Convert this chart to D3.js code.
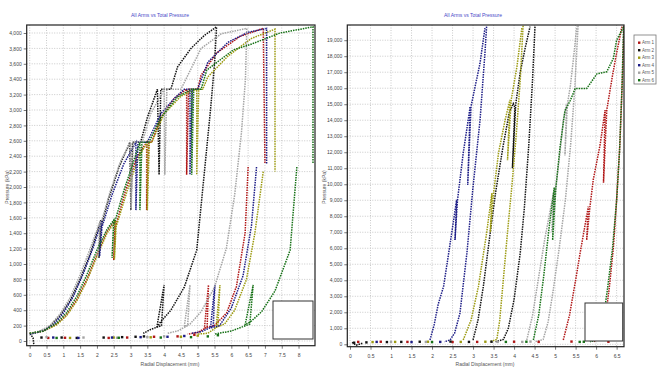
<!DOCTYPE html>
<html>
<head>
<meta charset="utf-8">
<script src="https://cdn.jsdelivr.net/npm/d3@7"></script>
<style>
  body { margin: 0; background: #fff; }
  svg { display: block; font-family: "Liberation Sans", Arial, sans-serif; }
</style>
</head>
<body>
<svg id="chart" width="661" height="372"></svg>
<script>
// ---- data (radial displacement mm, pressure kPa) ----
const armNames = ['Arm 1', 'Arm 2', 'Arm 3', 'Arm 4', 'Arm 5', 'Arm 6'];

const leftXTicks = d3.range(0, 8.01, 0.5);
const leftYTicks = d3.range(0, 4001, 200);
const rightXTicks = d3.range(0, 6.51, 0.5);
const rightYTicks = d3.range(0, 19001, 1000);

// left chart: each arm is a list of traces
const leftArm1 = [
  [[0, 100], [0.4, 130], [0.8, 220], [1.1, 340], [1.4, 540], [1.7, 800], [2.0, 1120], [2.3, 1420], [2.54, 1570],
   [2.5, 1050], [2.55, 1480], [2.85, 1950], [3.2, 2400], [3.48, 2580], [3.48, 1700], [3.54, 2580], [3.63, 2580],
   [3.9, 2900], [4.3, 3150], [4.67, 3270], [4.67, 2160], [4.73, 3270], [5.0, 3270], [5.1, 3450], [5.56, 3740],
   [6.26, 3956], [6.95, 4060], [7.0, 2300]],
  [[6.5, 2260], [6.41, 1400], [6.15, 706], [5.86, 364], [5.5, 200], [5.2, 170], [5.32, 728], [5.28, 180], [5.0, 110], [4.7, 90]]
];
const leftArm2 = [
  [[0.12, -40], [0.1, 40], [0.02, 90]],
  [[0, 90], [0.3, 120], [0.6, 190], [0.9, 330], [1.2, 520], [1.5, 800], [1.8, 1130], [2.12, 1570], [2.06, 1080],
   [2.1, 1450], [2.35, 1850], [2.65, 2250], [2.98, 2580], [3.01, 1700], [3.06, 2580], [3.3, 2580], [3.5, 2900],
   [3.8, 3270], [3.85, 2160], [3.9, 3270], [4.2, 3270], [4.4, 3560], [4.8, 3800], [5.2, 3970], [5.56, 4080],
   [5.5, 3600], [5.38, 3000], [5.2, 2200], [4.97, 1180], [4.6, 700], [4.2, 400], [3.88, 240], [3.78, 170],
   [4.0, 728], [3.92, 200], [3.6, 150], [3.38, 100]]
];
const leftArm3 = [
  [[0, 100], [0.4, 125], [0.8, 210], [1.1, 330], [1.4, 520], [1.7, 780], [2.0, 1100], [2.3, 1400], [2.56, 1560],
   [2.52, 1060], [2.57, 1480], [2.9, 1950], [3.25, 2400], [3.5, 2580], [3.5, 1700], [3.56, 2580], [3.63, 2580],
   [4.0, 2950], [4.5, 3180], [4.97, 3270], [4.97, 2160], [5.03, 3270], [5.15, 3270], [5.3, 3430], [5.9, 3700],
   [6.6, 3930], [7.3, 4050], [7.3, 2200]],
  [[6.95, 2200], [6.7, 1400], [6.45, 800], [6.1, 400], [5.8, 220], [5.55, 180], [5.66, 728], [5.6, 190], [5.3, 100], [5.0, 90]]
];
const leftArm4 = [
  [[0, 90], [0.4, 130], [0.7, 210], [1.0, 360], [1.3, 580], [1.6, 880], [1.9, 1230], [2.14, 1560], [2.08, 1100],
   [2.15, 1480], [2.45, 1900], [2.8, 2300], [3.16, 2580], [3.16, 1700], [3.22, 2580], [3.5, 2580], [3.9, 2950],
   [4.3, 3150], [4.6, 3270], [4.77, 3270], [4.77, 2160], [4.84, 3270], [5.0, 3270], [5.3, 3620], [5.9, 3880],
   [6.5, 4010], [7.05, 4060], [7.05, 2300]],
  [[6.75, 2260], [6.6, 1500], [6.35, 850], [6.0, 430], [5.65, 200], [5.38, 170], [5.51, 728], [5.46, 190], [5.1, 120], [4.8, 100]]
];
const leftArm5 = [
  [[0, 100], [0.3, 130], [0.6, 200], [0.9, 350], [1.2, 560], [1.5, 860], [1.8, 1200], [2.1, 1560], [2.03, 1100],
   [2.1, 1500], [2.4, 1950], [2.7, 2330], [3.0, 2580], [3.02, 1720], [3.08, 2580], [3.35, 2580], [3.6, 2950],
   [4.0, 3270], [4.02, 2160], [4.08, 3270], [4.5, 3270], [5.1, 3800], [5.7, 3990], [6.46, 4060],
   [6.42, 3400], [6.3, 2700], [6.1, 1900], [5.85, 1200], [5.5, 700], [5.1, 380], [4.77, 220],
   [4.6, 190], [4.77, 728], [4.7, 200], [4.4, 130], [4.1, 100]]
];
const leftArm6 = [
  [[0, 100], [0.4, 130], [0.8, 230], [1.1, 370], [1.4, 580], [1.7, 860], [2.0, 1180], [2.3, 1450], [2.5, 1570],
   [2.45, 1080], [2.5, 1500], [2.8, 1950], [3.28, 2580], [3.28, 1700], [3.34, 2580], [3.55, 2580], [3.9, 2900],
   [4.4, 3170], [4.82, 3270], [4.82, 2160], [4.88, 3270], [5.1, 3270], [5.27, 3520], [6.06, 3780], [6.56, 3850],
   [7.45, 4000], [8.43, 4080], [8.43, 2300]],
  [[7.95, 2260], [7.75, 1180], [7.3, 650], [6.9, 380], [6.6, 260], [6.41, 210], [6.65, 728], [6.55, 220], [6.0, 130], [5.5, 90]]
];
const leftArm1Dots = [[0.55, 40], [1.05, 42], [2.35, 40], [2.9, 45], [3.7, 55], [4.4, 60], [4.9, 80]];
const leftArm2Dots = [[0.35, 45], [0.95, 45], [1.4, 40], [2.2, 45], [2.75, 50], [3.15, 55], [3.4, 60]];
const leftArm3Dots = [[1.2, 40], [2.5, 45], [3.6, 48], [4.5, 55], [5.0, 70]];
const leftArm4Dots = [[0.7, 45], [1.45, 40], [2.45, 45], [3.3, 50], [4.1, 55], [4.6, 65]];
const leftArm5Dots = [[0.5, 50], [1.6, 45], [2.6, 42], [3.5, 50], [4.0, 60]];
const leftArm6Dots = [[0.8, 40], [2.65, 42], [3.9, 45], [4.8, 50], [5.3, 60], [5.6, 75]];

// right chart
const rightArm1 = [
  [[5.2, 270], [5.35, 1800], [5.5, 4000], [5.61, 5700], [5.81, 8600], [5.77, 6500], [5.85, 8600], [5.93, 10270],
   [6.1, 12500], [6.22, 14640], [6.18, 10100], [6.26, 14640], [6.4, 16800], [6.5, 18200], [6.63, 19850]],
  [[6.68, 19900], [6.64, 16500], [6.58, 12500], [6.5, 9000], [6.42, 6000], [6.32, 3500], [6.22, 1500], [6.12, 400], [5.95, 170]]
];
const rightArm2 = [
  [[0.3, 60], [0.15, -60], [0.05, 120]],
  [[3.0, 270], [3.12, 1500], [3.25, 3600], [3.4, 6600], [3.55, 9500], [3.73, 12350], [3.88, 14440], [3.98, 15040],
   [4.02, 14800], [3.96, 11000], [4.04, 15000], [4.15, 17000], [4.27, 18500], [4.39, 19850]],
  [[4.51, 19850], [4.45, 16500], [4.36, 12500], [4.25, 8500], [4.15, 5700], [4.0, 2800], [3.86, 1000], [3.74, 300], [3.55, 160]]
];
const rightArm3 = [
  [[2.76, 270], [2.95, 1500], [3.13, 3600], [3.33, 6940], [3.46, 9440], [3.42, 7000], [3.5, 9440], [3.62, 11940],
   [3.78, 14000], [3.9, 15270], [3.84, 11500], [3.93, 15270], [4.07, 17350], [4.19, 19750]],
  [[4.22, 19900], [4.15, 16500], [4.05, 13000], [3.95, 10000], [3.84, 7000], [3.73, 3800], [3.65, 1500], [3.58, 300], [3.4, 160]]
];
const rightArm4 = [
  [[1.95, 270], [2.05, 1200], [2.15, 2500], [2.28, 3600], [2.4, 5600], [2.6, 9020], [2.56, 6520], [2.62, 9000],
   [2.76, 11940], [2.93, 14850], [2.87, 9950], [2.95, 14850], [3.05, 16100], [3.17, 17560], [3.29, 19750]],
  [[3.33, 19850], [3.29, 18200], [3.17, 14000], [3.0, 9850], [2.85, 5700], [2.68, 1940], [2.55, 700], [2.44, 270], [2.3, 160]]
];
const rightArm5 = [
  [[4.31, 270], [4.45, 1800], [4.6, 4200], [4.75, 6600], [4.96, 9440], [4.92, 7000], [5.0, 9440], [5.12, 12000],
   [5.2, 14000], [5.28, 15000], [5.24, 11800], [5.3, 15000], [5.37, 16100], [5.45, 17900], [5.53, 19850]],
  [[5.56, 19900], [5.48, 16000], [5.38, 12500], [5.25, 9000], [5.1, 6000], [4.95, 3300], [4.83, 1400], [4.71, 300], [4.5, 160]]
];
const rightArm6 = [
  [[4.47, 270], [4.6, 1800], [4.72, 4200], [4.85, 7200], [4.98, 9800], [4.94, 6500], [5.02, 9800], [5.12, 12300],
   [5.24, 14600], [5.37, 15230], [5.49, 15980], [5.77, 15980], [6.02, 16900], [6.26, 17030], [6.42, 17860],
   [6.5, 19000], [6.67, 19830]],
  [[6.67, 19850], [6.63, 16000], [6.57, 12000], [6.5, 9000], [6.4, 6000], [6.28, 3500], [6.17, 1500], [6.06, 300], [5.85, 160]]
];
const rightArm1Dots = [[0.2, 150], [0.75, 160], [1.4, 150], [2.5, 140], [3.1, 150], [4.0, 160], [4.6, 150], [5.4, 170], [6.3, 160]];
const rightArm2Dots = [[0.1, 100], [0.4, 120], [0.9, 140], [1.25, 150], [1.7, 160], [2.45, 170], [2.9, 150], [3.45, 160]];
const rightArm3Dots = [[0.55, 140], [1.1, 150], [1.9, 160], [2.7, 150], [3.3, 160]];
const rightArm4Dots = [[0.65, 150], [1.5, 140], [2.2, 150]];
const rightArm5Dots = [[1.0, 150], [1.85, 150], [3.6, 150], [4.2, 150], [4.4, 170]];
const rightArm6Dots = [[2.0, 140], [3.8, 150], [4.3, 160], [5.6, 150], [5.7, 160]];

// ---- styles ----
const armColors = ['#b01515', '#111111', '#9c9a10', '#1c1c86', '#a4a4a4', '#157015'];

const svg = d3.select('#chart');

const panels = [
  {
    frame: [26.7, 25, 315, 345.7],
    xDomain: [-0.09, 8.49], yDomain: [-61, 4104],
    xTicks: leftXTicks, yTicks: leftYTicks,
    arms: [leftArm1, leftArm2, leftArm3, leftArm4, leftArm5, leftArm6],
    dots: [leftArm1Dots, leftArm2Dots, leftArm3Dots, leftArm4Dots, leftArm5Dots, leftArm6Dots],
    titleX: 160, xLabelX: 170, yLabelX: 9,
    box: [273, 301, 313, 339]
  },
  {
    frame: [347.3, 25, 624, 346.7],
    xDomain: [-0.066, 6.68], yDomain: [-150, 19950],
    xTicks: rightXTicks, yTicks: rightYTicks,
    arms: [rightArm1, rightArm2, rightArm3, rightArm4, rightArm5, rightArm6],
    dots: [rightArm1Dots, rightArm2Dots, rightArm3Dots, rightArm4Dots, rightArm5Dots, rightArm6Dots],
    titleX: 473, xLabelX: 485, yLabelX: 326,
    box: [585, 303, 622.7, 341]
  }
];

panels.forEach(function(p) {
  const [x0, y0, x1, y1] = p.frame;
  const x = d3.scaleLinear().domain(p.xDomain).range([x0, x1]);
  const y = d3.scaleLinear().domain(p.yDomain).range([y1, y0]);
  const g = svg.append('g');

  // grid
  g.append('g').selectAll('line')
      .data(p.xTicks)
      .enter().append('line')
      .attr('x1', d => x(d)).attr('x2', d => x(d))
      .attr('y1', y0).attr('y2', y1)
      .attr('stroke', '#bdbdbd').attr('stroke-width', 0.8)
      .attr('stroke-dasharray', '1,1.5');
  g.append('g').selectAll('line')
      .data(p.yTicks)
      .enter().append('line')
      .attr('x1', x0).attr('x2', x1)
      .attr('y1', d => y(d)).attr('y2', d => y(d))
      .attr('stroke', '#bdbdbd').attr('stroke-width', 0.8)
      .attr('stroke-dasharray', '1,1.5');

  // axes
  const xAxis = g.append('g')
      .attr('transform', 'translate(0,' + y1 + ')')
      .call(d3.axisBottom(x).tickValues(p.xTicks).tickSize(3).tickPadding(5)
          .tickFormat(d3.format('')));
  const yAxis = g.append('g')
      .attr('transform', 'translate(' + x0 + ',0)')
      .call(d3.axisLeft(y).tickValues(p.yTicks).tickSize(3).tickPadding(2)
          .tickFormat(d3.format(',')));
  [xAxis, yAxis].forEach(function(a) {
    a.select('.domain').remove();
    a.selectAll('line').attr('stroke', '#777');
    a.selectAll('text').attr('font-size', 5).attr('fill', '#444')
        .attr('font-family', '"Liberation Sans", Arial, sans-serif');
  });

  // traces
  const clip = 'clip' + Math.round(x0);
  svg.append('clipPath').attr('id', clip).append('rect')
      .attr('x', x0).attr('y', y0).attr('width', x1 - x0).attr('height', y1 - y0);
  const plot = g.append('g').attr('clip-path', 'url(#' + clip + ')');
  const line = d3.line().x(d => x(d[0])).y(d => y(d[1]));

  p.arms.forEach(function(traces, i) {
    plot.selectAll(null)
        .data(traces)
        .enter().append('path')
        .attr('d', line)
        .attr('fill', 'none')
        .attr('stroke', armColors[i])
        .attr('stroke-width', 1.5)
        .attr('stroke-dasharray', '1.5,1');
  });
  p.dots.forEach(function(pts, i) {
    plot.selectAll(null)
        .data(pts)
        .enter().append('rect')
        .attr('x', d => x(d[0]) - 1.2)
        .attr('y', d => y(d[1]) - 1.2)
        .attr('width', 2.4).attr('height', 2.4)
        .attr('fill', armColors[i]);
  });

  // frame
  g.append('rect')
      .attr('x', x0).attr('y', y0).attr('width', x1 - x0).attr('height', y1 - y0)
      .attr('fill', 'none').attr('stroke', '#222').attr('stroke-width', 1.2);

  // empty annotation box
  g.append('rect')
      .attr('x', p.box[0]).attr('y', p.box[1])
      .attr('width', p.box[2] - p.box[0]).attr('height', p.box[3] - p.box[1])
      .attr('fill', '#fff').attr('stroke', '#333').attr('stroke-width', 1);

  // titles
  g.append('text')
      .attr('x', p.titleX).attr('y', 17)
      .attr('text-anchor', 'middle').attr('font-size', 5).attr('fill', '#4848c8')
      .text('All Arms vs Total Pressure');
  g.append('text')
      .attr('x', p.xLabelX).attr('y', 366)
      .attr('text-anchor', 'middle').attr('font-size', 5).attr('fill', '#555')
      .text('Radial Displacement (mm)');
  g.append('text')
      .attr('transform', 'translate(' + p.yLabelX + ',187) rotate(-90)')
      .attr('text-anchor', 'middle').attr('font-size', 5).attr('fill', '#555')
      .text('Pressure (kPa)');
});

// legend
const legend = svg.append('g');
legend.append('rect')
    .attr('x', 634).attr('y', 35).attr('width', 22).attr('height', 49)
    .attr('fill', '#fff').attr('stroke', '#777').attr('stroke-width', 0.8);
const items = legend.selectAll('g.item')
    .data(armNames)
    .enter().append('g')
    .attr('class', 'item')
    .attr('transform', (d, i) => 'translate(0,' + (42.7 + i * 7.5) + ')');
items.append('rect')
    .attr('x', 638).attr('y', -1.2).attr('width', 2.4).attr('height', 2.4)
    .attr('fill', (d, i) => armColors[i]);
items.append('text')
    .attr('x', 642).attr('y', 1.6)
    .attr('font-size', 4.5).attr('fill', '#555')
    .text(d => d);
</script>
</body>
</html>
